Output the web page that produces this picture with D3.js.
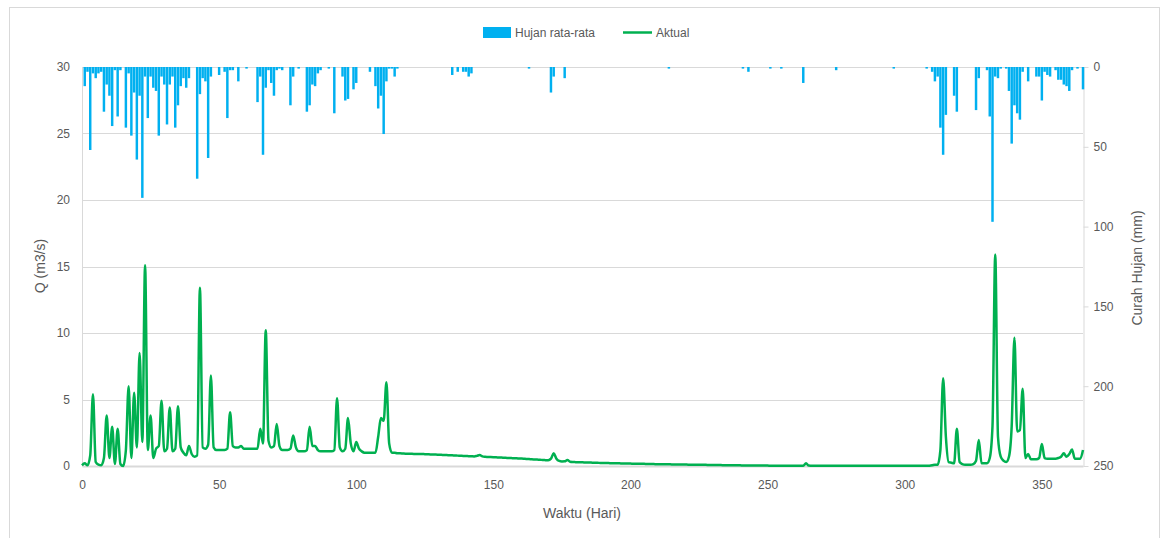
<!DOCTYPE html>
<html>
<head>
<meta charset="utf-8">
<script src="https://cdn.jsdelivr.net/npm/d3@7"></script>
<style>
  body { margin: 0; background: #fff; }
  svg { display: block; font-family: "Liberation Sans", Arial, sans-serif; }
</style>
</head>
<body>
<svg id="chart" width="1164" height="538"></svg>
<script>
// rainfall, only days with rain (day, mm)
const rainDays = [1,2,3,4,5,6,7,8,9,10,11,12,13,14,16,17,18,19,20,21,22,23,24,25,26,27,28,29,30,
  31,32,33,34,35,36,37,38,39,42,43,44,45,46,47,50,52,53,54,55,57,60,64,65,66,67,68,69,70,71,72,73,
  76,77,79,82,83,84,85,86,87,90,92,95,96,97,99,100,105,107,108,109,110,111,112,113,114,115,
  135,137,139,140,141,142,163,171,172,176,214,241,243,251,255,263,275,296,308,310,311,312,313,
  314,315,318,319,326,327,330,331,332,333,334,335,337,338,339,340,341,342,343,345,348,349,350,
  351,352,353,355,356,357,358,359,360,361,363,365];
const rainMm = [12,3,52,4,7,4,3,28,11,18,37,2,31,2,38,4,43,16,58,18,82,6,32,6,13,15,43,6,11,
  36,11,6,38,24,12,7,13,7,70,17,7,9,57,6,5,3,32,2,2,9,1,22,6,55,13,2,10,18,2,1,2,
  24,6,1,28,24,11,12,4,2,1,29,6,21,20,14,10,3,12,26,18,42,9,1,1,6,1,
  5,3,3,3,6,4,1,16,6,7,1,1,3,1,1,10,2,1,1,3,9,6,38,
  55,30,18,28,27,7,2,31,97,6,7,1,1,15,48,24,29,33,3,9,6,6,21,
  3,5,6,2,8,8,11,12,15,2,1,14];

// daily discharge Q (m3/s), day 0 .. 365
const flowQ = [
  0.05,0.2,0.05,0.8,5.4,0.3,0.1,0.05,0.6,3.8,
  0.6,2.95,0.15,2.8,0.15,0.0,1.2,6.0,0.6,5.5,
  1.4,8.5,1.8,15.1,1.2,3.8,0.6,1.3,1.5,4.9,
  1.1,1.3,4.4,1.1,1.3,4.5,1.4,1.0,0.8,1.5,
  0.9,0.7,0.8,13.4,1.4,1.3,1.6,6.8,1.4,1.2,
  1.2,1.2,1.2,1.3,4.05,1.5,1.4,1.4,1.5,1.3,
  1.3,1.3,1.3,1.3,1.3,2.8,1.7,10.2,1.9,1.4,
  1.5,3.15,1.5,1.2,1.2,1.2,1.3,2.3,1.4,1.1,
  1.1,1.1,1.2,2.95,1.5,1.5,1.2,1.1,1.1,1.1,
  1.1,1.1,1.2,5.1,1.4,1.1,1.3,3.6,1.7,1.1,
  1.8,1.3,1.1,1.0,1.0,1.0,1.0,1.0,2.2,3.6,
  3.4,6.3,1.7,1.0,1.0,0.95,0.95,0.94,0.93,0.93,
  0.92,0.91,0.91,0.9,0.9,0.89,0.88,0.87,0.86,0.86,
  0.85,0.84,0.83,0.82,0.81,0.8,0.79,0.78,0.77,0.76,
  0.75,0.74,0.73,0.72,0.76,0.82,0.72,0.69,0.68,0.67,
  0.66,0.65,0.64,0.63,0.62,0.61,0.6,0.59,0.58,0.57,
  0.56,0.55,0.53,0.52,0.5,0.49,0.48,0.47,0.45,0.44,
  0.43,0.55,0.95,0.55,0.38,0.34,0.35,0.45,0.32,0.3,
  0.29,0.28,0.28,0.27,0.26,0.26,0.25,0.24,0.24,0.23,
  0.23,0.22,0.22,0.21,0.21,0.2,0.2,0.19,0.19,0.18,
  0.18,0.17,0.17,0.17,0.16,0.16,0.15,0.15,0.15,0.14,
  0.14,0.14,0.13,0.13,0.13,0.12,0.12,0.12,0.11,0.11,
  0.11,0.1,0.1,0.1,0.1,0.09,0.09,0.09,0.08,0.08,
  0.08,0.07,0.07,0.07,0.06,0.06,0.06,0.05,0.05,0.05,
  0.05,0.04,0.04,0.04,0.04,0.04,0.03,0.03,0.03,0.03,
  0.03,0.02,0.02,0.02,0.02,0.02,0.02,0.02,0.02,0.02,
  0.02,0.02,0.02,0.02,0.2,0.03,0.02,0.01,0.01,0.01,
  0.01,0.01,0.01,0.01,0.01,0.01,0.01,0.01,0.01,0.01,
  0.01,0.01,0.01,0.01,0.01,0.01,0.01,0.01,0.01,0.01,
  0.01,0.01,0.01,0.01,0.01,0.01,0.01,0.01,0.01,0.01,
  0.01,0.01,0.01,0.01,0.01,0.01,0.01,0.01,0.01,0.02,
  0.05,0.1,0.1,1.2,6.6,2.2,0.3,0.25,0.2,2.8,
  0.3,0.15,0.1,0.1,0.1,0.15,0.4,1.95,0.2,0.2,
  0.2,0.6,3.0,15.9,2.2,0.7,0.4,0.3,0.7,3.0,
  9.65,2.6,2.7,5.8,0.6,0.9,0.5,0.5,0.5,0.6,
  1.65,0.6,0.55,0.55,0.55,0.55,0.6,0.7,0.95,0.7,
  0.9,1.25,0.55,0.55,0.55,1.2
];

const xTicks = [0, 50, 100, 150, 200, 250, 300, 350];
const qTicks = [0, 5, 10, 15, 20, 25, 30];
const rainTicks = [0, 50, 100, 150, 200, 250];

const rainColor = "#00B0F0";
const flowColor = "#00B050";
const gridColor = "#D9D9D9";
const textColor = "#595959";

const svg = d3.select("#chart");

// chart frame
svg.append("rect")
    .attr("x", 9.5).attr("y", 7.5)
    .attr("width", 1150).attr("height", 540)
    .attr("fill", "#fff").attr("stroke", gridColor);

const x = d3.scaleLinear().domain([0, 365]).range([82, 1083]);
const yQ = d3.scaleLinear().domain([0, 30]).range([466, 67]);
const yR = d3.scaleLinear().domain([0, 250]).range([67, 466]);

// gridlines
svg.append("g")
    .selectAll("line")
    .data(qTicks.filter(t => t > 0))
    .enter()
    .append("line")
    .attr("x1", x(0)).attr("x2", x(365))
    .attr("y1", d => Math.round(yQ(d)) + 0.5)
    .attr("y2", d => Math.round(yQ(d)) + 0.5)
    .attr("stroke", gridColor);

// left axis
const leftAxis = svg.append("g")
    .attr("transform", `translate(${x(0)},0)`)
    .call(d3.axisLeft(yQ).tickValues(qTicks).tickSize(0).tickPadding(12));
leftAxis.select(".domain").attr("stroke", gridColor);

// right axis
const rightAxis = svg.append("g")
    .attr("transform", `translate(${x(365) + 0.5},0)`)
    .call(d3.axisRight(yR).tickValues(rainTicks).tickSizeInner(5).tickSizeOuter(0).tickPadding(5));
rightAxis.select(".domain").attr("stroke", gridColor);
rightAxis.selectAll(".tick line").attr("stroke", gridColor);

// bottom axis
const bottomAxis = svg.append("g")
    .attr("transform", `translate(0,${yQ(0)})`)
    .call(d3.axisBottom(x).tickValues(xTicks).tickSize(0).tickPadding(14));
bottomAxis.select(".domain").attr("stroke", gridColor).attr("stroke-width", 2);

svg.selectAll(".tick text")
    .attr("fill", textColor)
    .style("font-size", "12px")
    .style("font-family", "Liberation Sans, Arial, sans-serif");

// rain bars hanging from top
const bw = (x(1) - x(0)) * 0.9;
svg.append("g")
    .selectAll("rect")
    .data(rainDays.map((d, i) => ({day: d, mm: rainMm[i]})))
    .enter()
    .append("rect")
    .attr("x", d => x(d.day) - bw / 2)
    .attr("y", yR(0))
    .attr("width", bw)
    .attr("height", d => yR(d.mm) - yR(0))
    .attr("fill", rainColor);

// discharge line
const flowLine = d3.line()
    .x((d, i) => x(i))
    .y(d => yQ(d))
    .curve(d3.curveMonotoneX);

svg.append("path")
    .datum(flowQ)
    .attr("d", flowLine)
    .attr("fill", "none")
    .attr("stroke", flowColor)
    .attr("stroke-width", 2.5)
    .attr("stroke-linejoin", "round");

// axis titles
svg.append("text")
    .attr("x", 582).attr("y", 518)
    .attr("text-anchor", "middle")
    .attr("fill", textColor)
    .style("font-size", "14px")
    .text("Waktu (Hari)");

svg.append("text")
    .attr("transform", "translate(45,266) rotate(-90)")
    .attr("text-anchor", "middle")
    .attr("fill", textColor)
    .style("font-size", "14px")
    .text("Q (m3/s)");

svg.append("text")
    .attr("transform", "translate(1142,268) rotate(-90)")
    .attr("text-anchor", "middle")
    .attr("fill", textColor)
    .style("font-size", "14px")
    .text("Curah Hujan (mm)");

// legend
const legend = svg.append("g").style("font-size", "12px");
legend.append("rect")
    .attr("x", 483).attr("y", 27).attr("width", 28).attr("height", 11)
    .attr("fill", rainColor);
legend.append("text")
    .attr("x", 515).attr("y", 37)
    .attr("fill", textColor)
    .text("Hujan rata-rata");
legend.append("line")
    .attr("x1", 623).attr("x2", 652).attr("y1", 32.5).attr("y2", 32.5)
    .attr("stroke", flowColor).attr("stroke-width", 2.5);
legend.append("text")
    .attr("x", 656).attr("y", 37)
    .attr("fill", textColor)
    .text("Aktual");
</script>
</body>
</html>
